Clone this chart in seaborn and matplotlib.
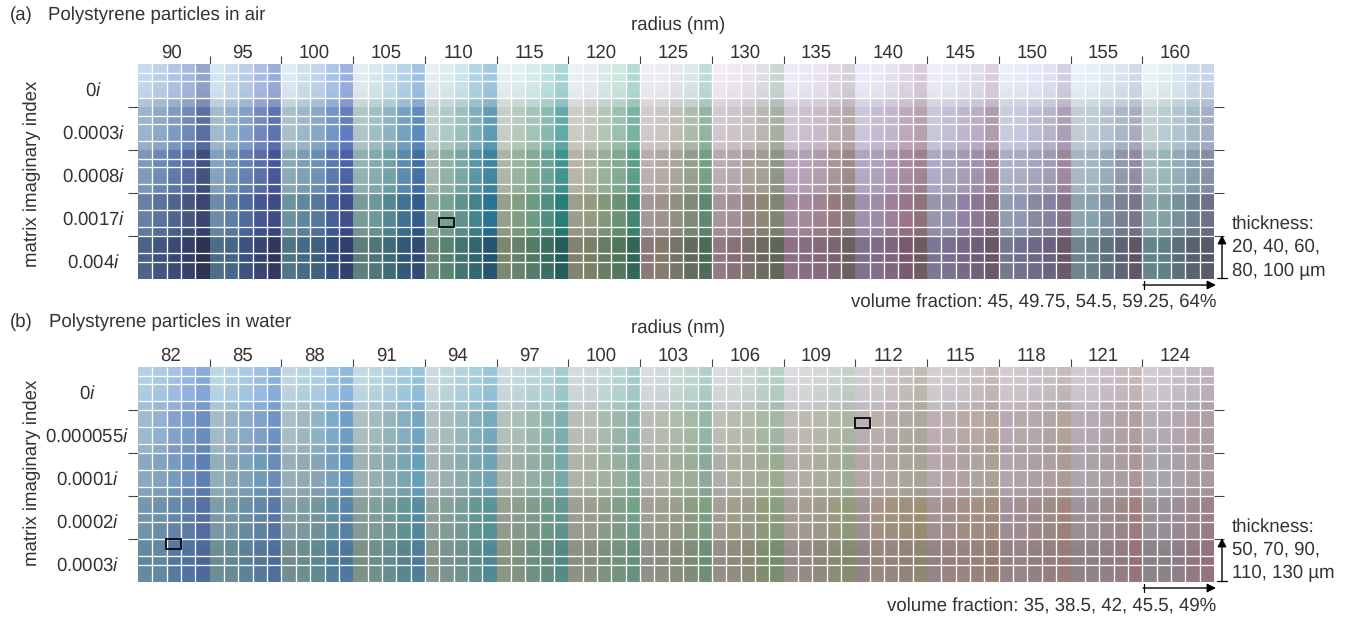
import numpy as np
import matplotlib
matplotlib.use("Agg")
import matplotlib.pyplot as plt
from matplotlib.colors import ListedColormap, to_rgb
from matplotlib.lines import Line2D
from matplotlib.patches import Rectangle
import seaborn as sns

RADII_A = [90, 95, 100, 105, 110, 115, 120, 125, 130, 135, 140, 145, 150, 155, 160]
RADII_B = [82, 85, 88, 91, 94, 97, 100, 103, 106, 109, 112, 115, 118, 121, 124]
IMAG_A = ["0", "0.0003", "0.0008", "0.0017", "0.004"]
IMAG_B = ["0", "0.000055", "0.0001", "0.0002", "0.0003"]

# colours read per imaginary-index band, five volume fractions per radius
A1 = """c2d5ea b8cde4 adc0de a2b5d7 919fc6  cfe2ef c3d6ea b3c8e5 a7b7de 97a7d4  d6e5ee c8dcea bad0e6 a7c0e4 97acdc
dce8ee cfe3ea c3dde6 add0e5 9cbce0  e0eaec d6e8ea c8e0e6 aed1e0 9fc4da  e4ecec dcebea cfe7e6 bbdede a3d0d2
e8ecef e4e8ea d8e4e4 c8e2dc aed8ce  ebe8ee e8e8ec dfe3e6 d4e4e2 bcd8d2  ece6ee e8e4ec e4dfe8 d8dadc c6d2cf
e9e6f2 e6e3ee e4dfea dcd5e0 d2ccd2  e8e6f2 e4e3f0 e0dcec dbd2e2 d4c8d6  e8e8f2 e4e5f2 e0e0ee dcd8e8 d6cadc
e4e8f2 dfe6f4 dfe2f0 d9dcec cfcade  e4edf4 deebf3 d9e4ef d4dde9 cdd4e4  e4eef4 dceae9 d3e4ea c8dae6 c4d0e4""".split()
A2 = """9db4ce 8fa9c9 7f9bc4 6f89b8 5a6fa4  a2bace 92b2cf 82a0c9 7189bf 5f74b2  a9c0cc 9bb8cc 88a9c9 7196c7 627dc1
b0c6c9 a0c0c7 8db4c3 74a2c3 5c8bc0  bccfca aecbc6 9bc0be 7fb0bd 5d9db5  c5cfc6 b6cbba a4c5b6 88bab0 60acab
cccbc4 c5c8bf b5c5b4 9cc1ad 78b5a1  d1c9ca cac6c4 bfbfb6 afbbab 94b5a1  d2c9d0 cfc4c7 c8bfc0 bbb7af a6b1a4
d1c6d6 cdbfd2 cabbc8 c3b1b8 b5a9a8  ccc6dc c6bbd4 c3b6cd c0a9bc b9a2ae  c8c8dc c3bfd8 bfb7d0 bbadc6 b09db0
c8ccde c5c8de bdbdd6 b8b4cc ad9fba  c2ccd6 bdcdd6 b4c2d2 abb6c8 a9acc2  c2d2d2 b8cdd2 b2c6d2 a5bbc8 a3b0c8""".split()
A3 = """7f99b8 6e8bb4 5f7aa9 546a9f 41527f  83a2bb 7596ba 6480b0 5a6fa8 47579a  8aa9b6 7a9fb7 6a90b6 5b78ac 4a62a6
93b1b1 85abb1 70a1ab 5b8bae 416fa6  a0b8ad 90b0a7 78a7a4 5a95a3 3f85a0  aab7a8 9bb19f 85ac98 68a393 409490
b5b5a8 aab2a0 98af98 82aa91 5c9d88  bcadae b4a8a3 a8a698 959f8c 76a084  bdabb4 b5a7ad ae9f9f a39f95 8d9787
b8a5bb b6a2b6 b09eaa a89597 9a8d88  b2a8c4 ae9fbe ad96b2 a78aa0 a08390  adaac8 a9a3be a69cb8 a28fae 9d7f96
aab0c6 aaadc4 a3a5be 9f9db6 9f87a0  a7b8c2 a4b7bf 95aabb 9098ae 938ba5  a2bcc0 99b7ba 93adb8 87a0ae 868fa6""".split()
A4 = """6680a4 5a7199 4c6490 46557f 3a4570  6a8aa6 5d7ea2 4e6a9b 445692 3d4b80  6e909e 5f85a0 527799 435f95 3f4d8c
7a9a9a 6c9697 53868f 40718f 335a8c  89a595 76a092 5f9188 41838a 2b7190  949f89 829c80 6c9a80 4f8e7b 277d77
9d9c8a 95997f 80977a 679172 40856f  a69595 9e9289 908f7f 7d8a74 5f8670  a9949e a08f95 978482 8b8675 7a8770
a58ba2 a4879b 9f8290 95797d 8a7a74  9e8fac 9c8aa6 9c7f96 9a7488 8d7078  9793ae 9290aa 8f80a4 8a7596 856c80
8f9cb0 8d97b2 85889f 85809e 85708a  8ea3ae 86a0ae 7c90a3 788096 79748c  89a6ac 80a0a4 769099 6b818f 6b7086""".split()
A5 = """4a6388 40557f 3a4a75 35406a 2e3352  4c6d88 44668a 3d527f 38446f 33365f  4f7484 426b87 3f5f80 344c79 333e70
5b7f7c 4e7678 3e6c76 31587a 2f4b74  6b897a 58846f 437570 2f6870 245470  7b8870 68806a 537b65 3a6e60 205f5c
838170 7b7f66 677c62 527659 33665a  8b7978 857a6c 76736a 626c5c 4e6a58  917a84 8a7075 7d6f6a 6d6a60 5e6655
8f7088 896c80 86697a 7a6570 6b5f5e  7f7090 826b88 7f6580 79596e 6f5a60  7a7796 79708f 786888 6f5e79 6a5668
74788f 72708e 6c6a88 6a6280 6a5868  6c858f 66808a 61707f 5e6478 60566a  658489 5f8084 5a6f79 56626e 585a6a""".split()

B1 = """afcde2 a8c5e0 9ebde0 93b3de 84a7d8  b7d2e3 adcce0 a5c6e0 98bce0 88add9  bbd3e0 b1d0df a9cadf 99c1df 8cb4da
bed6e1 b6d2df afcddc a0c8dc 90bedb  c5d6dc bad3da aed0dc a2cbda 92c1d8  c7d7dc bfd5d9 b7d2d4 aecfd3 9bc8cc
cdd7da c8d4d6 bfd7d4 b4d2cd a2c9c7  d2d9da cdd6d6 c5d5d0 bad3cb aaccc3  d3d8da d0d7d7 c8d4d0 bdd0c8 b2cdc0
d4d6da d4d5d7 cdd3d3 c7d0ce bfccc3  cfcacf cbc8cc cbc1c4 c3bdb9 bcb8ad  d0c9ce cdc6cc cbc3c6 c8bdbd c3b6b4
cfc5cc cbc3c8 c8bfc6 c5bcbe c3b6b6  cbc5cf c9c4cd c7bcc6 c4b8bc c2b5b3  cdc5cf c8c5cd c5bcc8 c0b8c0 bdafb8""".split()
B2 = """a0bbd0 92b2cd 84a3cc 7a9cc8 6d8ec1  a3bcca 96b4c9 8aacc9 7ea3c6 6f95c4  a9bfc6 9eb9c2 8fb4c8 80abc8 70a0c6
adbfc0 a1bbbf 94b5ba 87afc1 74a5c4  b0c0c0 a8bdbf 9ab8be 87b0bd 76aabf  b5c1bd a9bfb7 9cbab1 8db5ae 7eb0b0
b9bfb6 b5bfb3 a9bcae 9bb7ab 8bb5aa  b9bdb5 b6bcae aebcac a3baa6 94b7a6  bdbeb7 b8bcaf b4bbac a8b8a3 a0b8a4
c0bdb9 bdbab2 b8b8ac b2b8a6 a9b6a4  bcb0b2 bab0ab b8aba7 b1aaa2 aea89a  bfaeb4 bdaeae baaaa7 b6aaa3 b5a498
b9a9b4 b8a9ad b6a8ac b1a6a2 b4a498  b8acb8 b6abb2 b3a6ad b2a4a6 b2a0a0  b8aeb8 b4adb4 b3a7b0 b3a2aa b0a0a4""".split()
B3 = """8aa8c0 82a2bd 769ac0 6a8fba 5f80b5  92adbb 88a6b7 7ea2ba 6f99b9 6b8cba  97aeb4 8fabb4 85a5b6 74a0bd 6495bd
a0b1b5 95aeb2 88abaf 7aa5b2 64a0ba  a5b5b3 9ab0b1 8dabae 7ca6ae 6da3b5  aab5ac 9eb1a6 92ada3 86a9a0 75a8a6
aeb4a8 aab2a4 a1b0a2 96ae9c 84aa9c  afb0a8 adb1a3 a4ae9c 9aae96 8bab98  b0aeaa aeaea2 a9ad9e a1ad98 99ac90
b5aeac b2aea5 adad9e a8ac98 a0ab94  b2a6a8 b0a8a5 afa69e aba69a a6a494  b6a8ac b4a4a6 b2a2a0 ada49e ae9f94
b1a6ae b0a4a6 ad9fa8 ae9f9e ae9b94  aea5ac aaa4a8 aca0a3 ad9da0 ae959a  aaa8ae a7a6aa a9a0a8 ab9ca2 aa98a0""".split()
B4 = """7696ad 6f92ac 6789a9 5f7fa7 5670a4  7f9ba9 7799a7 6c8fa5 6187a5 5a78a5  84a0a4 7d9ca4 73959f 6490a6 5a84a8
899d9a 7f9d9a 739a97 649598 568ba0  8fa29b 84a099 7a9c99 659893 599498  979f91 8a9e8d 7f9b8c 729a8b 63988f
9e9f93 9a9e8f 8f9e88 829e87 72a088  a09f92 9c9f8e 969e87 8b9d80 7ea082  a49f94 a09d8a 9b9d88 919c7c 899e7f
a89f98 a69d92 a09b8b 9a9b82 929b78  a29493 a69587 a4917f a08f7c 9b9072  a69396 a4908e a69086 a48f84 a48c7c
a3909a a38f92 a08a8e a08c86 a3847c  a0929a 9d9294 9d8c90 9e888a a0807f  9b9498 98929a 9c8e96 a08a92 a08088""".split()
B5 = """668a9f 638aa2 557ca0 5174a0 4f6a9c  6e8f96 688b96 5e849a 58799a 4f709d  748f90 6c8f92 628a93 55809a 4f799f
7f928a 72908c 65908f 598893 4e8099  88978c 7c958e 6f938e 61908d 538a97  8c9788 80967f 709380 668e80 568c85
90928a 8a9185 7f9280 75947f 6a9280  93918a 8d9083 88907a 7e8f78 709078  95908a 938c7f 8d8c77 838d6f 7a8e72
9a8f8a 968c84 908b7c 8d8c78 868c70  948585 9a8a7e 978780 938679 908870  958589 99857e 9b8583 98857a 998074
958488 998688 958183 988080 9a7c78  908588 8f8586 94808a 977d83 9a7478  8c858e 8e8488 907e88 937a85 957480""".split()

# brightness shift of the five thickness rows inside each band, read by eye
A_ROW_SHIFT = [[6, 3, 0, -3, -18], [0, 0, 0, -2, -6], [-2, 0, 2, 0, -4], [0, 2, 2, 0, -6], [0, 0, -2, 0, 2]]
B_ROW_SHIFT = [[5, 2, 0, -2, -13], [0, 0, -2, -2, -8], [0, 0, 0, 0, -6], [2, 0, -2, -4, -4], [0, -2, -4, -2, 0]]

# cell boundaries that carry a visible white line in the picture
COL_LINES = [i for i in range(1, 75) if i not in (5, 15, 25, 30, 45, 50, 55, 65)]
A_ROW_LINES = [1, 2, 4, 6, 7, 9, 11, 12, 14, 15, 17, 19, 20, 22, 23]
B_ROW_LINES = [1, 2, 4, 5, 7, 9, 10, 12, 14, 15, 17, 18, 20, 22, 23]
A_MARKS = [(20.95, 17.85)]
B_MARKS = [(50.0, 5.95), (1.95, 20.0)]

W, H = 1351, 618
INK = "#333333"
sns.set_theme(style="white")
plt.rcParams["font.family"] = ["Liberation Sans", "DejaVu Sans"]
plt.rcParams["mathtext.fontset"] = "custom"
plt.rcParams["mathtext.it"] = "Liberation Sans:italic"
plt.rcParams["mathtext.rm"] = "Liberation Sans"
plt.rcParams["text.hinting"] = "no_hinting"
FS = 13.4

fig = plt.figure(figsize=(W / 100, H / 100), dpi=100, facecolor="white")


def fx(px):
    return px / W


def fy(py):
    return 1 - py / H


def label(x, y, s, **kw):
    kw.setdefault("va", "center")
    kw.setdefault("ha", "left")
    fig.text(fx(x), fy(y), s, fontsize=FS, color=INK, **kw)


def arrow(ax, x0, y0, x1, y1):
    ax.annotate("", xy=(x1, H - y1), xytext=(x0, H - y0), xycoords="figure pixels",
                textcoords="figure pixels", annotation_clip=False,
                arrowprops=dict(arrowstyle="-|>", color="black", lw=1.0, shrinkA=0, shrinkB=0,
                                mutation_scale=13))


def cap(x0, y0, x1, y1):
    fig.add_artist(Line2D([fx(x0), fx(x1)], [fy(y0), fy(y1)], color="black", lw=0.9))


def panel(top, bands, shifts, radii, imag, row_lines, marks, pad_pts):
    ax = fig.add_axes([fx(138), fy(top + 215), 1076 / W, 215 / H])
    colours = []
    for band, shift in zip(bands, shifts):
        base = np.array([to_rgb("#" + c) for c in band])
        for s in shift:
            colours.extend(np.clip(base + s / 255, 0, 1))
    index = np.arange(25 * 75).reshape(25, 75)
    sns.heatmap(index, ax=ax, cmap=ListedColormap(colours), vmin=-0.5, vmax=25 * 75 - 0.5,
                cbar=False, xticklabels=False, yticklabels=False)
    ax.vlines(COL_LINES, 0, 25, color="white", lw=0.95)
    ax.hlines(row_lines, 0, 75, color="white", lw=0.95)
    for spine in ax.spines.values():
        spine.set_visible(False)
    ax.xaxis.tick_top()
    ax.set_xticks(np.arange(5, 75, 5))
    ax.set_xticks(np.arange(2.5, 75, 5) - 0.2, [str(r) for r in radii], minor=True)
    ax.set_yticks([5, 10, 15, 20])
    ax.set_yticks(np.arange(2.5, 25, 5) + 0.35, [f"{v}$i$" for v in imag], minor=True)
    ax.tick_params(axis="x", which="major", top=True, bottom=False, length=6, width=0.8,
                   color="#444444", labeltop=False, labelbottom=False)
    ax.tick_params(axis="x", which="minor", top=False, bottom=False, length=0, pad=1.5,
                   labeltop=True, labelbottom=False, labelsize=FS, labelcolor=INK)
    ax.tick_params(axis="y", which="major", left=True, right=True, length=7, width=0.8,
                   color="#444444", labelleft=False)
    ax.tick_params(axis="y", which="minor", left=False, right=False, length=0, pad=pad_pts,
                   labelleft=True, labelsize=FS, labelcolor=INK)
    for t in ax.get_yticklabels(minor=True):
        t.set_ha("center")
    for c, r in marks:
        ax.add_patch(Rectangle((c, r), 1.05, 1.15, fill=False, ec="#111111", lw=1.4, zorder=5))
    return ax


ax_a = panel(64, [A1, A2, A3, A4, A5], A_ROW_SHIFT, RADII_A, IMAG_A, A_ROW_LINES, A_MARKS, 32)
ax_b = panel(367, [B1, B2, B3, B4, B5], B_ROW_SHIFT, RADII_B, IMAG_B, B_ROW_LINES, B_MARKS, 36.5)

label(10, 15, "(a)")
label(48, 15, "Polystyrene particles in air")
label(10, 322, "(b)")
label(49, 322, "Polystyrene particles in water")
label(678, 25, "radius (nm)", ha="center")
label(678, 328, "radius (nm)", ha="center")
label(32, 174, "matrix imaginary index", ha="center", rotation=90)
label(32, 473, "matrix imaginary index", ha="center", rotation=90)
label(1232, 224, "thickness:")
label(1232, 247, "20, 40, 60,")
label(1232, 271, "80, 100 µm")
label(1232, 527, "thickness:")
label(1232, 550, "50, 70, 90,")
label(1232, 573, "110, 130 µm")
label(1216, 303, "volume fraction: 45, 49.75, 54.5, 59.25, 64%", ha="right")
label(1216, 607, "volume fraction: 35, 38.5, 42, 45.5, 49%", ha="right")

for top, ax in ((64, ax_a), (367, ax_b)):
    arrow(ax, 1222, top + 214, 1222, top + 171)
    arrow(ax, 1143, top + 221, 1216, top + 221)
    cap(1143.5, top + 217, 1143.5, top + 225)
    cap(1217, top + 214, 1227, top + 214)

fig.savefig("out.png", dpi=100, facecolor="white")
